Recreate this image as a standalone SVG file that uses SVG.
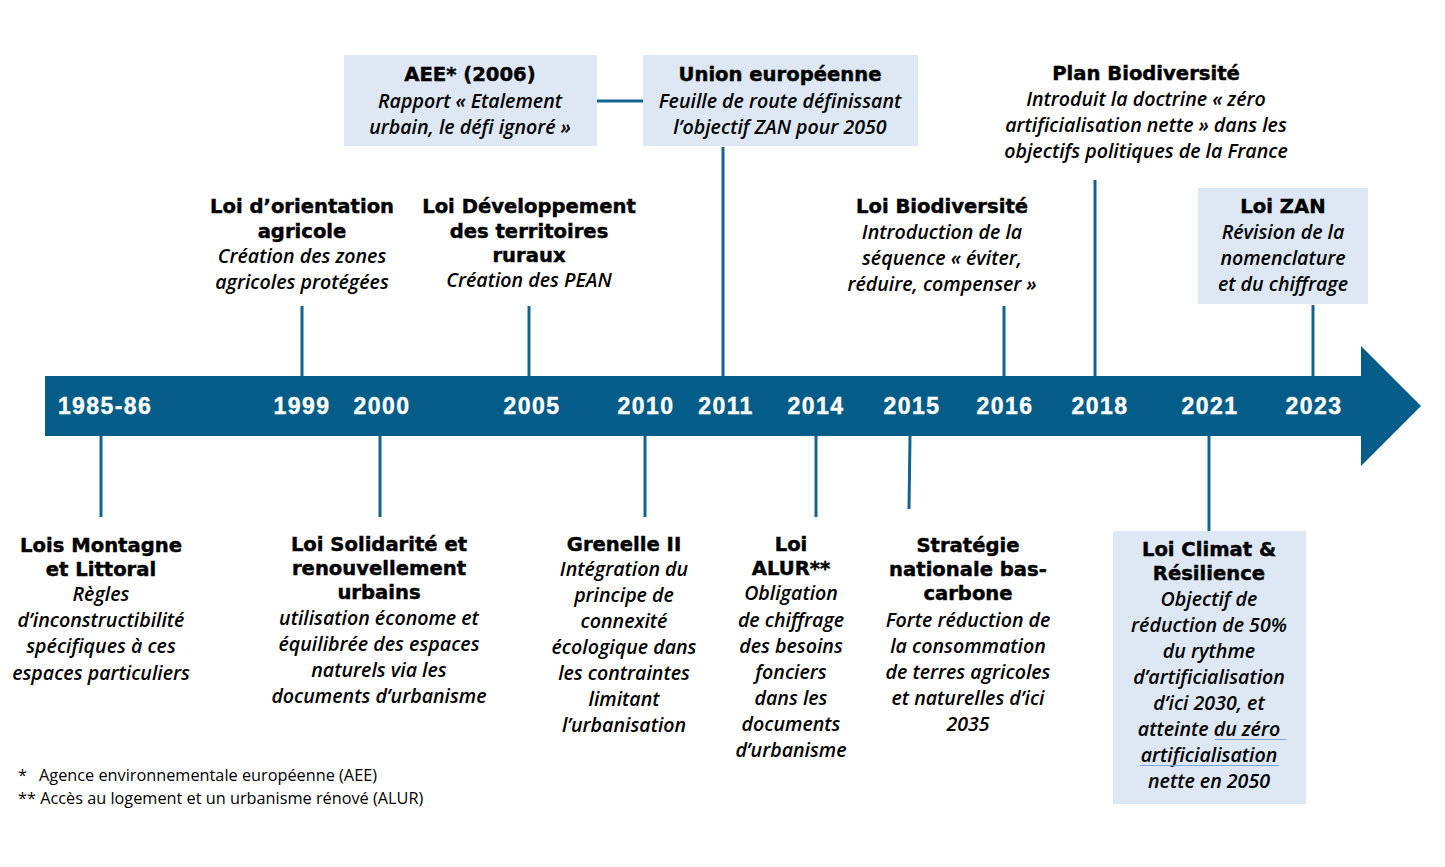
<svg xmlns="http://www.w3.org/2000/svg" width="1445" height="867" viewBox="0 0 1445 867">
<style>
.t{font-family:"DejaVu Sans","Liberation Sans",sans-serif;font-weight:bold;font-size:19.6px;fill:#000;stroke:#000;stroke-width:0.45;text-anchor:middle}
.i{font-family:"Open Sans","Liberation Sans",sans-serif;font-style:italic;font-weight:600;font-size:19.6px;fill:#000;text-anchor:middle}
.y{font-family:"Liberation Sans",Arial,sans-serif;font-weight:bold;font-size:23px;letter-spacing:1.4px;fill:#fff;stroke:#fff;stroke-width:0.4;text-anchor:middle}
.f{font-family:"Open Sans","Liberation Sans",sans-serif;font-size:16.3px;fill:#000}
.box{fill:#dde8f4}
.c{stroke:#14628f;stroke-width:3;fill:none}
</style>
<rect width="1445" height="867" fill="#fff"/>
<g id="timeline">
<polygon points="45,376 1361,376 1361,346 1421,406 1361,466 1361,436 45,436" fill="#045d88"/>
<text class="y" x="105" y="414">1985-86</text>
<text class="y" x="302" y="414">1999</text>
<text class="y" x="382" y="414">2000</text>
<text class="y" x="532" y="414">2005</text>
<text class="y" x="646" y="414">2010</text>
<text class="y" x="726" y="414">2011</text>
<text class="y" x="816" y="414">2014</text>
<text class="y" x="912" y="414">2015</text>
<text class="y" x="1005" y="414">2016</text>
<text class="y" x="1100" y="414">2018</text>
<text class="y" x="1210" y="414">2021</text>
<text class="y" x="1314" y="414">2023</text>
</g>
<g id="connectors">
<line class="c" x1="597" y1="101" x2="643" y2="101"/>
<line class="c" x1="302" y1="306" x2="302" y2="376"/>
<line class="c" x1="529" y1="306" x2="529" y2="376"/>
<line class="c" x1="723" y1="147" x2="723" y2="376"/>
<line class="c" x1="1004" y1="306" x2="1004" y2="376"/>
<line class="c" x1="1095" y1="180" x2="1095" y2="376"/>
<line class="c" x1="1313" y1="305" x2="1313" y2="376"/>
<line class="c" x1="101" y1="436" x2="101" y2="517"/>
<line class="c" x1="380" y1="436" x2="380" y2="517"/>
<line class="c" x1="645" y1="436" x2="645" y2="517"/>
<line class="c" x1="816" y1="436" x2="816" y2="517"/>
<line class="c" x1="910" y1="436" x2="909" y2="509"/>
<line class="c" x1="1209" y1="436" x2="1209" y2="531"/>
</g>
<g id="aee">
<rect class="box" x="344" y="55" width="253" height="91"/>
<text class="t" x="470" y="81">AEE* (2006)</text>
<text class="i" x="470" y="108">Rapport « Etalement</text>
<text class="i" x="470" y="134">urbain, le défi ignoré »</text>
</g>
<g id="ue">
<rect class="box" x="643" y="55" width="275" height="91"/>
<text class="t" x="780" y="81">Union européenne</text>
<text class="i" x="780" y="108">Feuille de route définissant</text>
<text class="i" x="780" y="134">l’objectif ZAN pour 2050</text>
</g>
<g id="plan-biodiversite">
<text class="t" x="1146" y="80">Plan Biodiversité</text>
<text class="i" x="1146" y="106">Introduit la doctrine « zéro</text>
<text class="i" x="1146" y="132">artificialisation nette » dans les</text>
<text class="i" x="1146" y="158">objectifs politiques de la France</text>
</g>
<g id="loi-orientation">
<text class="t" x="302" y="213">Loi d’orientation</text>
<text class="t" x="302" y="238">agricole</text>
<text class="i" x="302" y="263">Création des zones</text>
<text class="i" x="302" y="289">agricoles protégées</text>
</g>
<g id="loi-dtr">
<text class="t" x="529" y="213">Loi Développement</text>
<text class="t" x="529" y="238">des territoires</text>
<text class="t" x="529" y="262">ruraux</text>
<text class="i" x="529" y="287">Création des PEAN</text>
</g>
<g id="loi-biodiversite">
<text class="t" x="942" y="213">Loi Biodiversité</text>
<text class="i" x="942" y="239">Introduction de la</text>
<text class="i" x="942" y="265">séquence « éviter,</text>
<text class="i" x="942" y="291">réduire, compenser »</text>
</g>
<g id="loi-zan">
<rect class="box" x="1198" y="188" width="170" height="116"/>
<text class="t" x="1283" y="213">Loi ZAN</text>
<text class="i" x="1283" y="239">Révision de la</text>
<text class="i" x="1283" y="265">nomenclature</text>
<text class="i" x="1283" y="291">et du chiffrage</text>
</g>
<g id="lois-montagne">
<text class="t" x="101" y="552">Lois Montagne</text>
<text class="t" x="101" y="576">et Littoral</text>
<text class="i" x="101" y="601">Règles</text>
<text class="i" x="101" y="627">d’inconstructibilité</text>
<text class="i" x="101" y="653">spécifiques à ces</text>
<text class="i" x="101" y="680">espaces particuliers</text>
</g>
<g id="loi-sru">
<text class="t" x="379" y="551">Loi Solidarité et</text>
<text class="t" x="379" y="575">renouvellement</text>
<text class="t" x="379" y="599">urbains</text>
<text class="i" x="379" y="625">utilisation économe et</text>
<text class="i" x="379" y="651">équilibrée des espaces</text>
<text class="i" x="379" y="677">naturels via les</text>
<text class="i" x="379" y="703">documents d’urbanisme</text>
</g>
<g id="grenelle">
<text class="t" x="624" y="551">Grenelle II</text>
<text class="i" x="624" y="576">Intégration du</text>
<text class="i" x="624" y="602">principe de</text>
<text class="i" x="624" y="628">connexité</text>
<text class="i" x="624" y="654">écologique dans</text>
<text class="i" x="624" y="680">les contraintes</text>
<text class="i" x="624" y="706">limitant</text>
<text class="i" x="624" y="732">l’urbanisation</text>
</g>
<g id="loi-alur">
<text class="t" x="791" y="551">Loi</text>
<text class="t" x="791" y="575">ALUR**</text>
<text class="i" x="791" y="600">Obligation</text>
<text class="i" x="791" y="627">de chiffrage</text>
<text class="i" x="791" y="653">des besoins</text>
<text class="i" x="791" y="679">fonciers</text>
<text class="i" x="791" y="705">dans les</text>
<text class="i" x="791" y="731">documents</text>
<text class="i" x="791" y="757">d’urbanisme</text>
</g>
<g id="snbc">
<text class="t" x="968" y="552">Stratégie</text>
<text class="t" x="968" y="576">nationale bas-</text>
<text class="t" x="968" y="600">carbone</text>
<text class="i" x="968" y="627">Forte réduction de</text>
<text class="i" x="968" y="653">la consommation</text>
<text class="i" x="968" y="679">de terres agricoles</text>
<text class="i" x="968" y="705">et naturelles d’ici</text>
<text class="i" x="968" y="731">2035</text>
</g>
<g id="loi-climat">
<rect class="box" x="1113" y="531" width="193" height="273"/>
<text class="t" x="1209" y="556">Loi Climat &amp;</text>
<text class="t" x="1209" y="580">Résilience</text>
<text class="i" x="1209" y="606">Objectif de</text>
<text class="i" x="1209" y="632">réduction de 50%</text>
<text class="i" x="1209" y="658">du rythme</text>
<text class="i" x="1209" y="684">d’artificialisation</text>
<text class="i" x="1209" y="710">d’ici 2030, et</text>
<text class="i" x="1209" y="736">atteinte du zéro</text>
<text class="i" x="1209" y="762">artificialisation</text>
<text class="i" x="1209" y="788">nette en 2050</text>
<line x1="1215" y1="739.5" x2="1286" y2="739.5" stroke="#7fa6e0" stroke-width="1.2"/>
<line x1="1140" y1="765.5" x2="1279" y2="765.5" stroke="#7fa6e0" stroke-width="1.2"/>
</g>
<g id="footnotes">
<text class="f" x="18" y="781">*<tspan x="39">Agence environnementale européenne (AEE)</tspan></text>
<text class="f" x="18" y="804">** Accès au logement et un urbanisme rénové (ALUR)</text>
</g>
</svg>
